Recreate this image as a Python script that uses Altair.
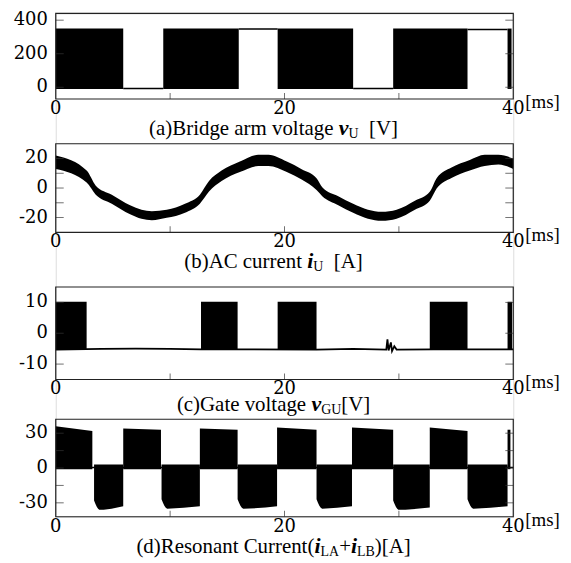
import altair as alt
import pandas as pd

# ---------------- data ----------------
X_TICKS = [0, 20, 40]

# (a) bridge arm voltage: dense PWM blocks + flat gaps
A_START = [0.0, 9.4, 19.4, 29.5, 39.5]
A_END = [5.9, 16.0, 26.0, 36.0, 39.85]
A_LOW = [-10, -10, -10, -10, -10]
A_HIGH = [350, 350, 350, 350, 350]
A_GAP_START = [5.9, 16.0, 26.0, 36.0]
A_GAP_END = [9.4, 19.4, 29.5, 39.5]
A_GAP_LEVEL = [-7, 347, -7, 345]
A_YTICKS = [0, 200, 400]

# (b) AC current: noisy sine band (upper / lower envelope)
B_T = [0, 2.7, 3.5, 4.9, 6.5, 7.5, 8.4, 9.7, 11.3, 12.6, 13.4, 14.5, 16.1, 17.7,
       18.6, 20.2, 21.5, 22.8, 23.3, 24.7, 26.0, 27.3, 28.5, 29.8, 31.4, 32.7,
       33.3, 34.6, 36.2, 37.5, 38.7, 40]
B_UP = [22.0, 11.8, 1.6, -4.5, -11.7, -14.7, -15.7, -14.7, -10.6, -4.5, 4.7, 11.8,
        17.9, 22.5, 22.5, 17.9, 12.8, 6.7, 0.6, -5.5, -10.6, -14.7, -16.1, -14.7,
        -8.6, -2.5, 6.7, 13.9, 19.0, 22.5, 22.5, 20.0]
B_LO = [12.9, 3.7, -4.5, -10.6, -17.7, -20.8, -21.8, -20.2, -16.7, -10.6, -2.4, 4.7,
        10.8, 14.9, 14.9, 10.8, 5.7, -1.4, -5.5, -11.6, -16.7, -20.8, -22.2, -20.8,
        -14.7, -8.6, -0.4, 6.8, 11.9, 14.9, 15.9, 12.9]
B_YTICKS = [-20, 0, 20]

# (c) gate voltage: blocks + off-level line
C_START = [0.0, 12.7, 19.4, 32.7, 39.5]
C_END = [2.7, 15.9, 22.8, 36.0, 39.9]
C_LOW = [-5.2, -5.2, -5.2, -5.2, -5.2]
C_HIGH = [10.2, 10.2, 10.2, 10.2, 10.2]
C_LINE_T = [0, 4, 7, 10, 12.7, 22.8, 26, 28.9, 29.0, 29.1, 29.3, 29.4, 29.6, 29.8, 33, 40]
C_LINE_V = [-5.3, -5.1, -5.0, -5.1, -5.2, -5.3, -5.1, -5.3, -2.0, -5.6, -3.0, -5.8, -4.2, -5.3, -5.2, -5.2]
C_YTICKS = [-10, 0, 10]

# (d) resonant current: alternating positive / negative blocks
D_POS_START = [0.0, 5.9, 12.6, 19.35, 25.9, 32.7, 39.5]
D_POS_END = [3.2, 9.2, 15.9, 22.8, 29.5, 36.0, 39.75]
D_POS_TOP_START = [36, 34, 34, 35, 35, 35, 33]
D_POS_TOP_END = [32, 33, 33, 33, 33, 32, 33]
D_NEG_START = [3.35, 9.25, 15.9, 22.8, 29.5, 36.0]
D_NEG_END = [5.9, 12.6, 19.35, 25.9, 32.7, 39.5]
D_NEG_BOTTOM_START = [-28, -27, -27, -27, -28, -27]
D_NEG_BOTTOM_MID = [-36, -35, -35, -35, -36, -35]
D_NEG_BOTTOM_END = [-33, -33, -33, -33, -34, -33]
D_YTICKS = [-30, 0, 30]

# ---------------- layout / style ----------------
W = 460
H = 506
BLACK = "#000000"
LABEL_FONT = "DejaVu Serif"
CAP_FONT = "Liberation Serif"

TIMES_W = {"(": 333, ")": 333, "a": 444, "b": 500, "c": 444, "d": 500, "e": 444,
           "g": 500, "i": 278, "l": 278, "m": 778, "n": 500, "o": 500, "r": 333,
           "s": 389, "t": 278, "u": 500, "v": 500, " ": 250, "B": 667, "A": 722,
           "C": 667, "R": 667, "V": 722, "[": 333, "]": 333, "+": 564, "G": 722,
           "L": 611, "U": 722}
BI_W = {"v": 444, "i": 278}


def text_width(s, size, bold_italic=False):
    table = BI_W if bold_italic else TIMES_W
    return sum(table.get(c, 500) for c in s) / 1000.0 * size


XS = alt.Scale(domain=[0, 40], nice=False, zero=False)


def X(field):
    return alt.X(f"{field}:Q", scale=XS, axis=None)


class Panel:
    def __init__(self, dom, top, bottom):
        self.dom, self.top, self.bottom = dom, top, bottom

    def Y(self, field):
        return alt.Y(f"{field}:Q",
                     scale=alt.Scale(domain=self.dom, range=[self.bottom, self.top], nice=False, zero=False),
                     axis=None)


ONE = pd.DataFrame({"k": [0]})


def decorations(p, yticks, inner_ticks, caption, cap_center):
    layers = []
    # inner tick marks
    dt = pd.DataFrame({"v": inner_ticks})
    for xp in (4, W - 4):
        layers.append(alt.Chart(dt).mark_tick(orient="horizontal", color="#333", thickness=1, size=8)
                      .encode(y=p.Y("v"), x=alt.value(xp)))
    dx = pd.DataFrame({"t": [10, 20, 30]})
    layers.append(alt.Chart(dx).mark_tick(orient="vertical", color="#333", thickness=1, size=6)
                  .encode(x=X("t"), y=alt.value(p.bottom - 3)))
    # frame
    fr = pd.DataFrame({"x0": [0], "x1": [40], "y0": [p.dom[0]], "y1": [p.dom[1]]})
    layers.append(alt.Chart(fr).mark_rect(fillOpacity=0, stroke="#222", strokeWidth=1.2)
                  .encode(x=X("x0"), x2="x1:Q", y=p.Y("y0"), y2="y1:Q"))
    # y tick labels
    dy = pd.DataFrame({"v": yticks, "lab": [str(v) for v in yticks]})
    layers.append(alt.Chart(dy).mark_text(font=LABEL_FONT, fontSize=18, align="right", baseline="middle",
                                          color=BLACK)
                  .encode(x=alt.value(-8), y=p.Y("v"), text="lab:N"))
    # x tick labels
    dxl = pd.DataFrame({"t": X_TICKS, "lab": [str(v) for v in X_TICKS]})
    layers.append(alt.Chart(dxl).mark_text(font=LABEL_FONT, fontSize=18, align="center", baseline="middle",
                                           color=BLACK)
                  .encode(x=X("t"), y=alt.value(p.bottom + 10), text="lab:N"))
    layers.append(alt.Chart(ONE).mark_text(text="[ms]", font=CAP_FONT, fontSize=19, align="left",
                                           baseline="middle", color=BLACK)
                  .encode(x=alt.value(W + 12), y=alt.value(p.bottom + 3)))
    # caption (rich text assembled from pieces)
    sizes = {"normal": 21, "bi": 22, "sub": 14}
    widths = [text_width(t, sizes[k], k == "bi") for t, k in caption]
    x = 219 - sum(widths) / 2
    base = cap_center + 6
    for (t, k), w in zip(caption, widths):
        lead = len(t) - len(t.lstrip(" "))
        core = t.strip(" ")
        kw = dict(text=core, font=CAP_FONT, fontSize=sizes[k], align="left", baseline="alphabetic", color=BLACK)
        yy = base
        if k == "bi":
            kw.update(fontStyle="italic", fontWeight="bold")
        if k == "sub":
            yy = base + 3
        layers.append(alt.Chart(ONE).mark_text(**kw).encode(
            x=alt.value(x + lead * 0.25 * sizes[k]), y=alt.value(yy)))
        x += w
    return layers


layers = []

# ---- panel a ----
pa = Panel([-70, 440], 0, 86)
dfa = pd.DataFrame({"s": A_START, "e": A_END, "lo": A_LOW, "hi": A_HIGH})
dfa_gap = pd.DataFrame({"s": A_GAP_START, "e": A_GAP_END, "v": A_GAP_LEVEL})
layers += [
    alt.Chart(dfa).mark_rect(color=BLACK).encode(x=X("s"), x2="e:Q", y=pa.Y("lo"), y2="hi:Q"),
    alt.Chart(dfa_gap).mark_rule(color=BLACK, strokeWidth=1.5).encode(x=X("s"), x2="e:Q", y=pa.Y("v")),
]
layers += decorations(pa, A_YTICKS, A_YTICKS,
                      [("(a)Bridge arm voltage ", "normal"), ("v", "bi"), ("U", "sub"), ("  [V]", "normal")],
                      pa.bottom + 30)

# ---- panel b ----
pb = Panel([-30, 30], 131, 220)
dfb = pd.DataFrame({"t": B_T, "up": B_UP, "lo": B_LO})
layers += [
    alt.Chart(dfb).mark_area(color=BLACK, interpolate="monotone").encode(x=X("t"), y=pb.Y("lo"), y2="up:Q"),
]
layers += decorations(pb, B_YTICKS, [-20, -10, 0, 10, 20],
                      [("(b)AC current ", "normal"), ("i", "bi"), ("U", "sub"), ("  [A]", "normal")],
                      pb.bottom + 30)

# ---- panel c ----
pc = Panel([-15, 15], 275, 368)
dfc = pd.DataFrame({"s": C_START, "e": C_END, "lo": C_LOW, "hi": C_HIGH})
dfc_line = pd.DataFrame({"t": C_LINE_T, "v": C_LINE_V})
layers += [
    alt.Chart(dfc).mark_rect(color=BLACK).encode(x=X("s"), x2="e:Q", y=pc.Y("lo"), y2="hi:Q"),
    alt.Chart(dfc_line).mark_line(color=BLACK, strokeWidth=1.8).encode(x=X("t"), y=pc.Y("v")),
]
layers += decorations(pc, C_YTICKS, C_YTICKS,
                      [("(c)Gate voltage ", "normal"), ("v", "bi"), ("GU", "sub"), ("[V]", "normal")],
                      pc.bottom + 26)

# ---- panel d ----
pdd = Panel([-42, 42], 408, 506)
rows = []
for i, (s, e, a, b) in enumerate(zip(D_POS_START, D_POS_END, D_POS_TOP_START, D_POS_TOP_END)):
    rows += [dict(blk=f"p{i}", t=s, outer=a, inner=-1), dict(blk=f"p{i}", t=e, outer=b, inner=-1)]
for i, (s, e, a, m, b) in enumerate(zip(D_NEG_START, D_NEG_END, D_NEG_BOTTOM_START,
                                        D_NEG_BOTTOM_MID, D_NEG_BOTTOM_END)):
    rows += [dict(blk=f"n{i}", t=s, outer=a, inner=3),
             dict(blk=f"n{i}", t=s + 0.5, outer=m, inner=3),
             dict(blk=f"n{i}", t=e, outer=b, inner=3)]
dfd = pd.DataFrame(rows)
dfd_zero = pd.DataFrame({"t": [0, 40], "v": [0.5, 0.5]})
layers += [
    alt.Chart(dfd).mark_area(color=BLACK, interpolate="monotone").encode(
        x=X("t"), y=pdd.Y("outer"), y2="inner:Q", detail="blk:N"),
    alt.Chart(dfd_zero).mark_line(color=BLACK, strokeWidth=1.5).encode(x=X("t"), y=pdd.Y("v")),
]
layers += decorations(pdd, D_YTICKS, [-30, -15, 0, 15, 30],
                      [("(d)Resonant Current(", "normal"), ("i", "bi"), ("LA", "sub"), ("+", "normal"),
                       ("i", "bi"), ("LB", "sub"), (")[A]", "normal")],
                      pdd.bottom + 30)

chart = alt.layer(*layers).resolve_scale(y="independent").properties(
    width=W, height=H,
    autosize=alt.AutoSizeParams(type="none"),
    padding={"left": 48, "top": 4, "right": 50, "bottom": 45},
).configure_view(strokeWidth=0).configure(background="white")

chart.save("out.html", embed_options={"renderer": "svg", "actions": False})
